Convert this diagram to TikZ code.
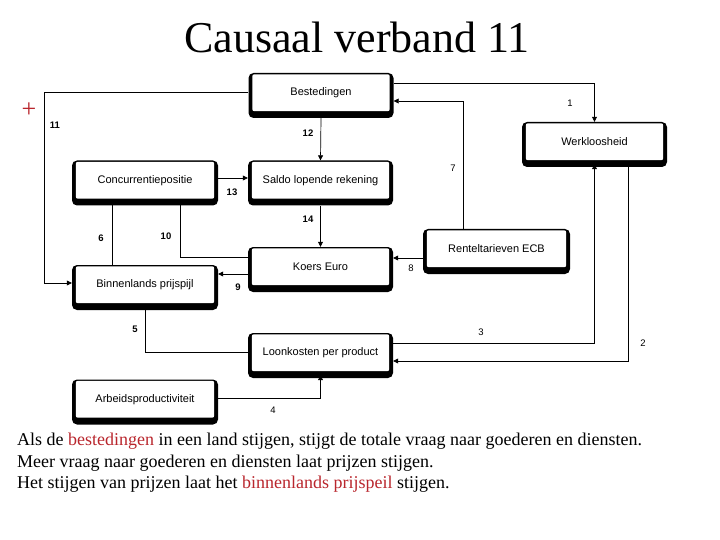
\documentclass[tikz,border=0pt]{standalone}
\usepackage{fontspec}
\setmainfont{Liberation Serif}
\setsansfont{Liberation Sans}
\usetikzlibrary{arrows.meta}
\definecolor{redtxt}{RGB}{185,38,45}
\tikzset{
  boxtext/.style={font=\sffamily\fontsize{11}{13}\selectfont, inner sep=0pt},
  arr/.style={-{Triangle[length=5pt,width=5pt]}, line width=0.7pt},
  lbl/.style={font=\sffamily\fontsize{9.5}{10}\selectfont, inner sep=0pt},
  lblb/.style={font=\sffamily\bfseries\fontsize{9.5}{10}\selectfont, inner sep=0pt},
  body/.style={font=\fontsize{18}{20}\selectfont, inner sep=0pt, anchor=base west}
}
\newcommand\cbox[4]{%
  \node[fill=black, rounded corners=5pt, minimum width=#3, minimum height=45pt, inner sep=0pt] (#1) at #2 {};
  \fill[white, rounded corners=2pt] ([xshift=4pt,yshift=-1.5pt]#1.north west) rectangle ([xshift=-4pt,yshift=7pt]#1.south east);
  \node[boxtext] (#1t) at ([yshift=2.75pt]#1.center) {#4};
}
\begin{document}
\begin{tikzpicture}[x=1pt,y=-1pt]
\useasboundingbox (0,0) rectangle (720,540);
% title
\node[font=\fontsize{44}{48}\selectfont, inner sep=0pt, anchor=base] (title) at (357,53) {Causaal verband 11};
\node[text=redtxt, font=\fontsize{26}{28}\selectfont, inner sep=0pt] (plus) at (29,110) {+};
% boxes
\cbox{bes}{(321,95.5)}{145pt}{Bestedingen}
\cbox{wer}{(594.5,144.5)}{145pt}{Werkloosheid}
\cbox{con}{(145,183)}{146pt}{Concurrentiepositie}
\cbox{sal}{(320.5,183)}{145pt}{Saldo lopende rekening}
\cbox{ren}{(496.5,251.5)}{147pt}{Renteltarieven ECB}
\cbox{koe}{(320.5,269.5)}{145pt}{Koers Euro}
\cbox{bin}{(145,287.5)}{146pt}{Binnenlands prijspijl}
\cbox{loo}{(320.5,355.5)}{145pt}{Loonkosten per product}
\cbox{arb}{(145,402)}{146pt}{Arbeidsproductiviteit}
% connectors
\draw[arr] ([yshift=3.5pt]bes.west) -| ([xshift=-27pt,yshift=4.5pt]bin.west) -- ([yshift=4.5pt]bin.west);
\draw[arr] ([yshift=12.5pt]bes.east) -| (wer.north);
\draw[arr] (bes.south) -- (sal.north);
\draw[arr] ([yshift=5pt]con.east) -- ([yshift=5pt]sal.west);
\draw[arr] (sal.south) -- (koe.north);
\draw[arr] ([xshift=-33.5pt]ren.north) |- ([yshift=-5.5pt]bes.east);
\draw[arr] ([yshift=-6.5pt]ren.west) -- ([yshift=-6.5pt]ren.west -| koe.east);
\draw[arr] ([yshift=-4.5pt]koe.west) -- ([yshift=-4.5pt]koe.west -| bin.east);
\draw[arr] ([yshift=12.5pt]koe.west) -| ([xshift=35pt,yshift=6pt]con.south);
\draw[arr] ([xshift=-33pt]bin.north) -- ([xshift=-33pt,yshift=6pt]con.south);
\draw[arr] ([yshift=3.5pt]loo.west) -| ([yshift=6pt]bin.south);
\draw[arr] ([yshift=4pt]arb.east) -| ([yshift=3pt]loo.south);
\draw[arr] ([yshift=12.5pt]loo.east) -| ([yshift=3pt]wer.south);
\draw[arr] ([xshift=33.5pt]wer.south) |- ([yshift=-5.5pt]loo.east);
% labels
\node[lblb] (l11) at (55,125) {11};
\node[lbl]  (l1)  at (570,103) {1};
\node[lblb] (l12) at (308,133) {12};
\node[lblb] (l13) at (232,192) {13};
\node[lblb] (l14) at (308,219) {14};
\node[lbl]  (l7)  at (453,168) {7};
\node[lbl]  (l8)  at (411,268) {8};
\node[lblb] (l9)  at (238,287) {9};
\node[lblb] (l10) at (166,236) {10};
\node[lblb] (l6)  at (101,238) {6};
\node[lblb] (l5)  at (135,329) {5};
\node[lbl]  (l4)  at (273,410) {4};
\node[lbl]  (l3)  at (481,332) {3};
\node[lbl]  (l2)  at (643,343) {2};
% body text
\node[body] (t1) at (17,445) {Als de \textcolor{redtxt}{bestedingen} in een land stijgen, stijgt de totale vraag naar goederen en diensten.};
\node[body] (t2) at (17,467) {Meer vraag naar goederen en diensten laat prijzen stijgen.};
\node[body] (t3) at (17,488) {Het stijgen van prijzen laat het \textcolor{redtxt}{binnenlands prijspeil} stijgen.};
\end{tikzpicture}
\end{document}
